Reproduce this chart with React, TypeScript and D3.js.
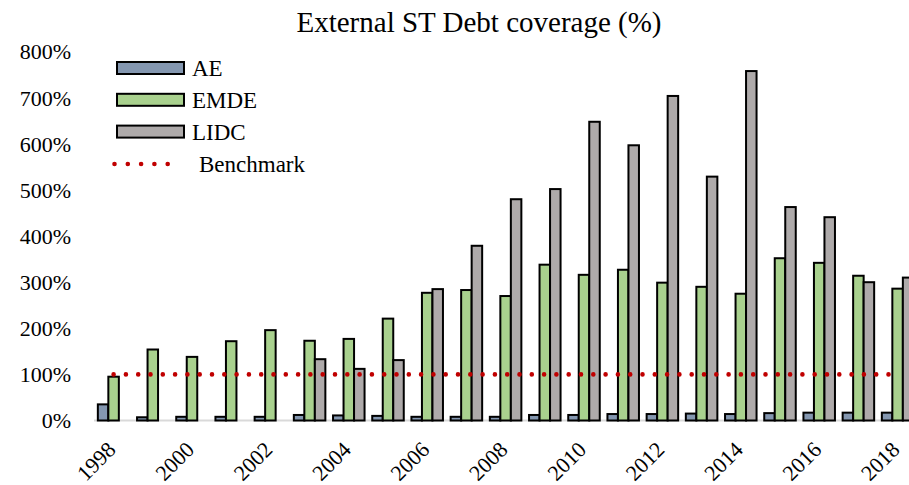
import React from "react";
import * as d3 from "d3";

const years = [
  "1998", "1999", "2000", "2001", "2002", "2003", "2004", "2005", "2006", "2007", "2008",
  "2009", "2010", "2011", "2012", "2013", "2014", "2015", "2016", "2017", "2018",
];
const aeValues = [35, 7, 8, 8, 8, 12, 11, 10, 8, 8, 8, 12, 12, 14, 14, 15, 14, 16, 17, 17, 17];
const emdeValues = [
  95, 154, 138, 172, 196, 173, 177, 221, 277, 283, 270, 338, 316, 327, 299, 290, 275, 352, 342, 314, 286,
];
const lidcValues: (number | null)[] = [
  null, null, null, null, null, 133, 112, 131, 285, 379, 480, 502, 648, 597, 704, 529, 758, 463, 441, 300, 310,
];
const benchmark = 100;
const yTicks = [0, 100, 200, 300, 400, 500, 600, 700, 800];
const xLabelYears = ["1998", "2000", "2002", "2004", "2006", "2008", "2010", "2012", "2014", "2016", "2018"];

const seriesNames = ["AE", "EMDE", "LIDC"];
const seriesColors: Record<string, string> = {
  AE: "#8497b0",
  EMDE: "#a9d18e",
  LIDC: "#aeaaaa",
};
const seriesValues: Record<string, (number | null)[]> = {
  AE: aeValues,
  EMDE: emdeValues,
  LIDC: lidcValues,
};

const W = 909;
const H = 485;
const FONT = "'Liberation Serif', 'Times New Roman', serif";

export default function App() {
  const x0 = d3
    .scaleBand<string>()
    .domain(years)
    .range([94, 917.2])
    .paddingInner(0.196)
    .paddingOuter(0.098);
  const x1 = d3.scaleBand<string>().domain(seriesNames).range([0, x0.bandwidth()]);
  const y = d3.scaleLinear().domain([0, 800]).range([420.5, 51.7]);

  const center = (yr: string) => (x0(yr) as number) + x0.bandwidth() / 2;

  return (
    <svg
      width={W}
      height={H}
      style={{ position: "absolute", left: 0, top: 0, background: "#fff" }}
      fontFamily={FONT}
    >
      <rect x={0} y={0} width={W} height={H} fill="#fff" />
      <text x={479} y={31.5} textAnchor="middle" fontSize={29} fill="#000">
        External ST Debt coverage (%)
      </text>

      {yTicks.map((t) => (
        <text
          key={t}
          x={71}
          y={y(t)}
          dy="0.35em"
          textAnchor="end"
          fontSize={22}
          fill="#000"
        >
          {`${t}%`}
        </text>
      ))}

      <line x1={94} x2={W} y1={y(0)} y2={y(0)} stroke="#d9d9d9" strokeWidth={2} />

      {years.map((yr, i) => (
        <g key={yr} transform={`translate(${x0(yr)},0)`}>
          {seriesNames.map((s) => {
            const v = seriesValues[s][i];
            if (v == null) return null;
            return (
              <rect
                key={s}
                x={x1(s)}
                y={y(v)}
                width={x1.bandwidth()}
                height={y(0) - y(v)}
                fill={seriesColors[s]}
                stroke="#000"
                strokeWidth={2}
              />
            );
          })}
        </g>
      ))}

      <line
        x1={center(years[0])}
        x2={center(years[years.length - 1])}
        y1={y(benchmark)}
        y2={y(benchmark)}
        stroke="#c00000"
        strokeWidth={4.6}
        strokeLinecap="round"
        strokeDasharray="0 12.3"
      />

      {xLabelYears.map((yr) => (
        <text
          key={yr}
          transform={`translate(${center(yr) + 3.5},${451}) rotate(-45)`}
          textAnchor="end"
          fontSize={22}
          fill="#000"
        >
          {yr}
        </text>
      ))}

      {/* legend */}
      {seriesNames.map((s, i) => {
        const cy = 68 + i * 31.8;
        return (
          <g key={s}>
            <rect
              x={117}
              y={cy - 6}
              width={67}
              height={12}
              fill={seriesColors[s]}
              stroke="#000"
              strokeWidth={2}
            />
            <text x={192} y={cy} dy="0.35em" fontSize={23} fill="#000">
              {s}
            </text>
          </g>
        );
      })}
      <line
        x1={114.5}
        x2={181}
        y1={164}
        y2={164}
        stroke="#c00000"
        strokeWidth={4.6}
        strokeLinecap="round"
        strokeDasharray="0 13.3"
      />
      <text x={199} y={164} dy="0.35em" fontSize={23} fill="#000">
        Benchmark
      </text>
    </svg>
  );
}
